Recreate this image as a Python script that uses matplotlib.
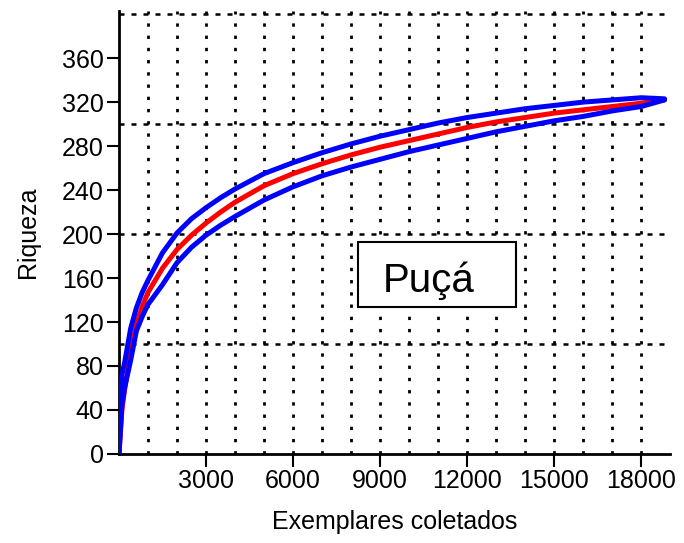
import numpy as np
import matplotlib.pyplot as plt
from matplotlib.patches import Rectangle
from matplotlib.ticker import FixedLocator

plt.rcParams['font.family'] = ['Liberation Sans', 'DejaVu Sans']

# Kurve der Artenrichness (Mittelwert + Konfidenzgrenzen)
exemplares = [0, 100, 200, 400, 600, 800, 1000, 1500, 2000, 2500, 3000, 3500, 4000,
              5000, 6000, 7000, 8000, 9000, 10000, 11000, 12000, 13000, 14000,
              15000, 16000, 17000, 18000, 18800]
riqueza_sup = [0, 72, 84, 114, 133, 147, 158, 183, 201, 214, 224, 233, 241,
               255, 265, 274, 282, 289, 295, 301, 306, 310, 314,
               317, 320, 322, 324, 323]
riqueza_med = [0, 40, 60, 92, 118, 134, 147, 169, 186, 199, 210, 220, 229,
               244, 255, 264, 272, 279, 285, 291, 297, 302, 306,
               310, 313, 316, 319, 322]
riqueza_inf = [0, 45, 61, 85, 112, 125, 136, 154, 174, 188, 199, 208, 216,
               231, 243, 253, 261, 268, 275, 281, 287, 293, 298,
               303, 307, 312, 316, 322]

xticks = [3000, 6000, 9000, 12000, 15000, 18000]
yticks = list(range(0, 361, 40))
grid_x = list(range(1000, 18001, 1000))
grid_y = [100, 200, 300, 400]

fig = plt.figure(figsize=(6.84, 5.43), dpi=100)
ax = fig.add_axes([0.174, 0.164, 0.806, 0.816])

ax.plot(exemplares, riqueza_med, color="#ff0000", lw=3.6, solid_capstyle="round", zorder=3)
ax.plot(exemplares, riqueza_sup, color="#0000ff", lw=3.6, solid_capstyle="round", zorder=4)
ax.plot(exemplares, riqueza_inf, color="#0000ff", lw=3.6, solid_capstyle="round", zorder=4)

ax.set_xlim(0, 19000)
ax.set_ylim(0, 403)
ax.set_xticks(xticks)
ax.set_yticks(yticks)
ax.xaxis.remove_overlapping_locs = False
ax.yaxis.remove_overlapping_locs = False
ax.xaxis.set_minor_locator(FixedLocator(grid_x))
ax.yaxis.set_minor_locator(FixedLocator(grid_y))
ax.tick_params(which="major", direction="out", length=9, width=1.5, labelsize=18, pad=2)
ax.tick_params(which="minor", length=0)

ax.grid(True, which="minor", axis="x", color="black", lw=2, linestyle=(0, (1.2, 3.2)))
ax.grid(True, which="minor", axis="y", color="black", lw=1.8, linestyle=(0, (2.0, 2.8)))
ax.grid(False, which="major")

for s in ["top", "right"]:
    ax.spines[s].set_visible(False)
for s in ["left", "bottom"]:
    ax.spines[s].set_linewidth(2)

ax.set_xlabel("Exemplares coletados", fontsize=18, labelpad=12)
ax.set_ylabel("Riqueza", fontsize=18, labelpad=16)

# Kasten mit Ortsname
ax.add_patch(Rectangle((8240, 134), 5450, 59, facecolor="white", edgecolor="black",
                       lw=1.5, zorder=5))
ax.text(10670, 147.5, "Puçá", fontsize=29, ha="center", va="baseline", zorder=6)

fig.savefig("out.png", dpi=100)
